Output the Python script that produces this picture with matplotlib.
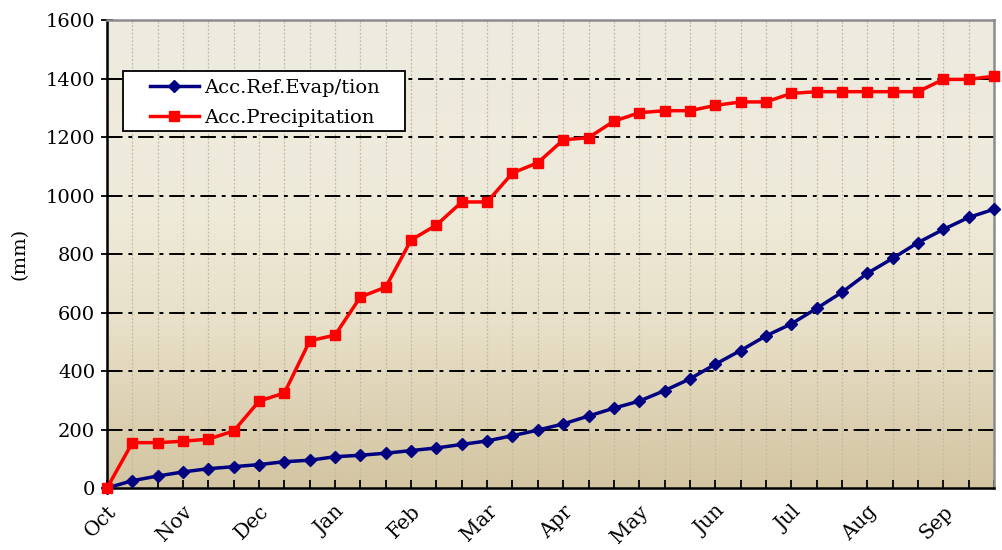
import numpy as np
import matplotlib
matplotlib.use("Agg")
import matplotlib.pyplot as plt
from matplotlib.colors import LinearSegmentedColormap
from matplotlib.patches import Rectangle

# month labels (one every 3 points, 36 points over the year)
months = ["Oct", "Nov", "Dec", "Jan", "Feb", "Mar", "Apr", "May", "Jun", "Jul", "Aug", "Sep"]

evap = [0, 25, 41, 55, 66, 73, 80, 90, 95, 107, 112, 119,
        128, 137, 149, 161, 179, 198, 219, 246, 273, 297, 333, 373,
        423, 470, 520, 561, 614, 669, 734, 785, 839, 884, 925, 953]

precip = [0, 155, 155, 160, 167, 195, 297, 325, 503, 523, 653, 687,
          848, 899, 978, 978, 1077, 1112, 1190, 1198, 1254, 1283, 1290, 1290,
          1308, 1320, 1320, 1349, 1355, 1355, 1355, 1355, 1355, 1397, 1397, 1408]

x = np.arange(len(evap))

plt.rcParams['font.family'] = 'DejaVu Serif'

fig = plt.figure(figsize=(10.03, 5.5), dpi=100)
ax = fig.add_axes([0.1067, 0.1127, 0.8843, 0.8509])

# background gradient of the plot area
cmap = LinearSegmentedColormap.from_list(
    "bg", [(0.0, "#d3c5a2"), (0.35, "#e8e0c8"), (0.6, "#efebda"), (1.0, "#edeae0")])
grad = np.linspace(0, 1, 256).reshape(-1, 1)
ax.imshow(grad, aspect="auto", cmap=cmap, origin="lower",
          extent=[0, 35, 0, 1600], zorder=0)

# grid
for xi in x:
    ax.axvline(xi, color="#c2b9a6", lw=0.9, ls=(0, (1.5, 1.5)), zorder=1)
for yv in range(200, 1600, 200):
    ax.axhline(yv, color="black", lw=1.4, dashes=(8, 3, 2, 3), zorder=1)

ax.plot(x, evap, color="#000080", lw=2.5, marker="D", ms=6.5,
        label="Acc.Ref.Evap/tion", zorder=3, clip_on=False)
ax.plot(x, precip, color="#ff0000", lw=2.5, marker="s", ms=6.5,
        label="Acc.Precipitation", zorder=3, clip_on=False)

ax.set_xlim(0, 35)
ax.set_ylim(0, 1600)
ax.set_yticks(range(0, 1601, 200))
ax.set_xticks(x, minor=False)
ax.set_xticklabels([months[i // 3] if i % 3 == 0 else "" for i in x],
                   rotation=45, ha="right", rotation_mode="anchor", fontsize=14.5)
ax.tick_params(axis="x", direction="in", length=6, width=1.3, pad=10)
ax.tick_params(axis="y", direction="inout", length=9, width=1.3, labelsize=14, pad=4)

ax.set_ylabel("(mm)", fontsize=14, labelpad=12)

for s in ["left", "bottom"]:
    ax.spines[s].set_color("black")
    ax.spines[s].set_linewidth(1.8)
for s in ["top", "right"]:
    ax.spines[s].set_color("#8c8c8c")
    ax.spines[s].set_linewidth(1.8)

# legend box drawn separately so the padding matches
box = Rectangle((0.018, 0.763), 0.318, 0.128, transform=ax.transAxes,
                facecolor="white", edgecolor="black", lw=1.3, zorder=4)
ax.add_patch(box)
leg = ax.legend(loc="upper left", bbox_to_anchor=(0.0485, 0.874), fontsize=14,
                frameon=False, handlelength=2.5, borderpad=0, borderaxespad=0,
                labelspacing=0.62, handletextpad=0.3)
leg.set_zorder(5)

fig.savefig("out.png", dpi=100)
